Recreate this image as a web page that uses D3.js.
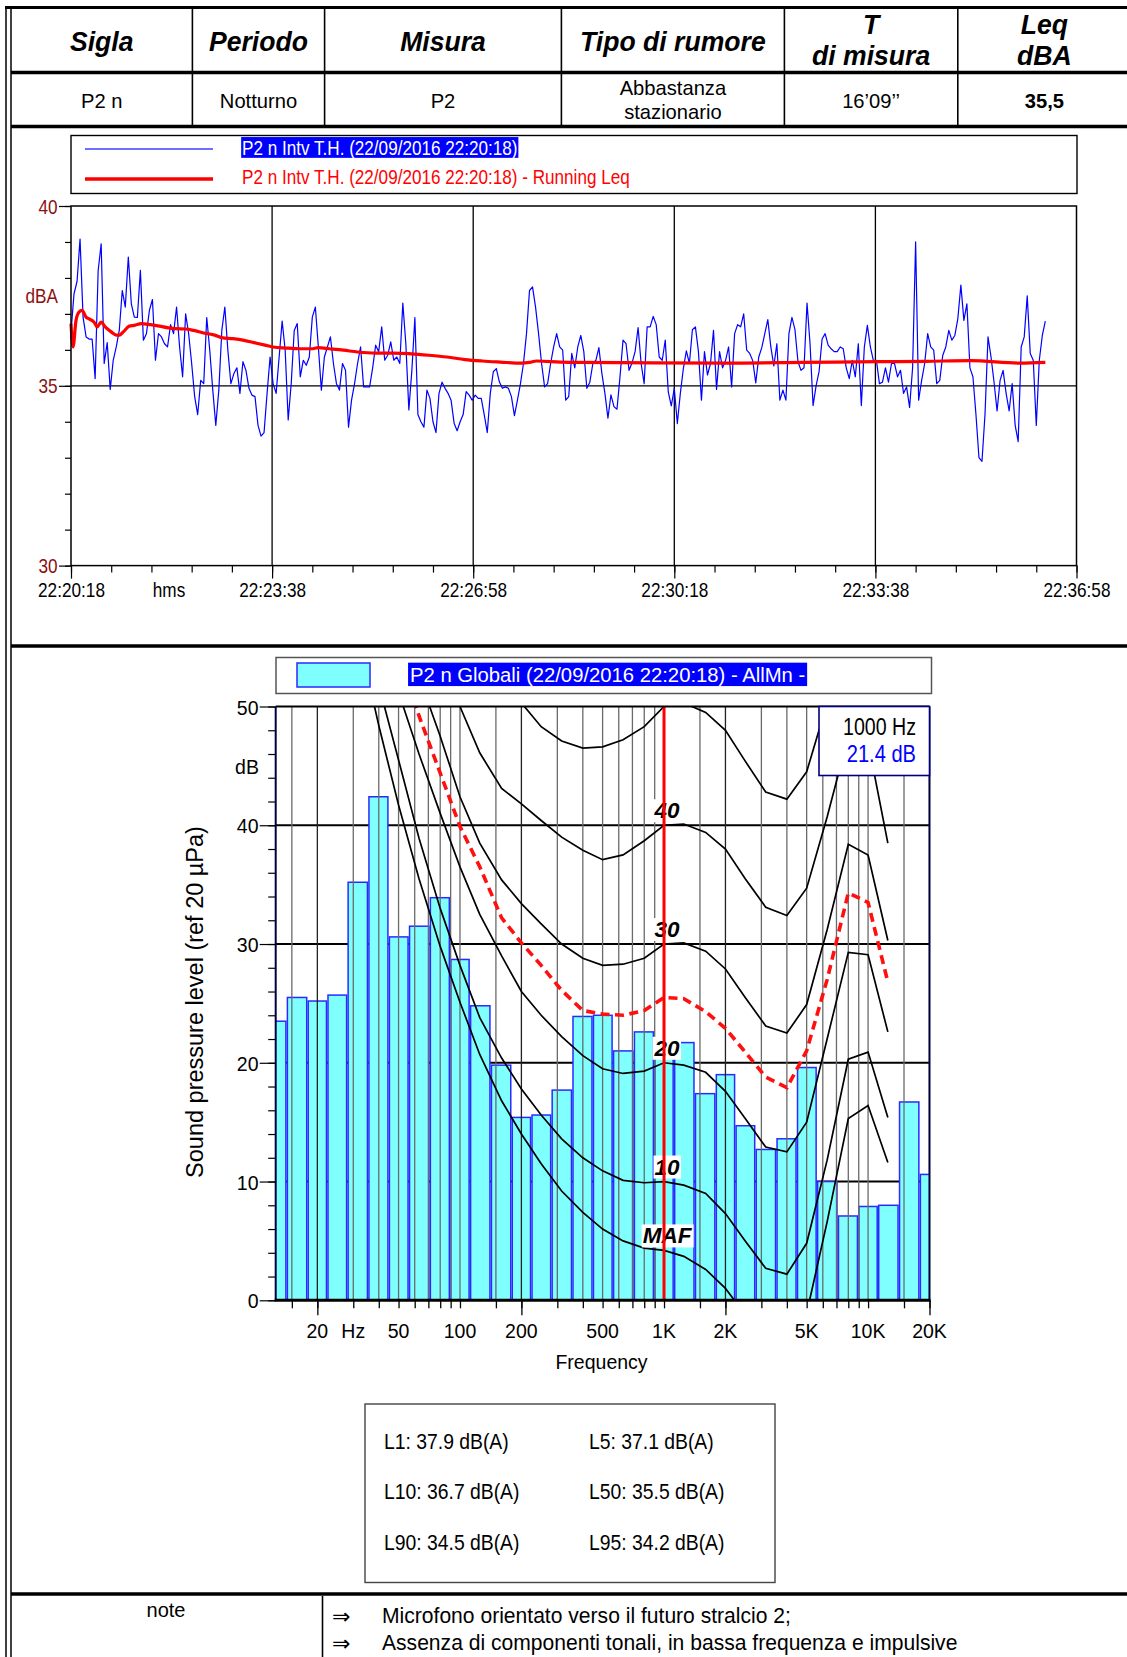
<!DOCTYPE html>
<html><head><meta charset="utf-8">
<script src="https://cdn.jsdelivr.net/npm/d3@7"></script>
<style>html,body{margin:0;padding:0;background:#fff;} svg{display:block;}</style>
</head><body>
<svg id="c" width="1127" height="1657"></svg>
<script>
// ---------------- DATA ----------------
const headerCols = ["Sigla", "Periodo", "Misura", "Tipo di rumore", "T\ndi misura", "Leq\ndBA"];
const rowValues = ["P2 n", "Notturno", "P2", "Abbastanza\nstazionario", "16\u201909\u2019\u2019", "35,5"];

const timeLegend = ["P2 n Intv T.H. (22/09/2016 22:20:18)", "P2 n Intv T.H. (22/09/2016 22:20:18) - Running Leq"];
const timeTickLabels = ["22:20:18", "22:23:38", "22:26:58", "22:30:18", "22:33:38", "22:36:58"];
const timeTickSeconds = [0, 200, 400, 600, 800, 1000];
const timeYTicks = [30, 35, 40];
const blueStep = 3; // seconds between samples
const blueValues = [
36.5,37.56,37.9,39.08,36.91,36.36,36.3,36.3,35.2,38.2,
38.95,35.62,36.2,34.9,35.71,36.08,36.54,37.65,37.19,38.58,
37.28,36.91,36.9,38.21,36.27,36.45,37.1,37.4,35.71,36.45,
36.36,36.17,36.08,36.7,36.45,37.19,36.08,35.25,37.0,36.45,
35.62,34.7,34.2,35.15,35.06,36.9,35.99,34.88,33.9,34.88,
36.54,37.19,35.99,35.06,35.34,35.5,34.79,35.67,35.43,34.93,
34.74,34.7,33.9,33.6,33.7,34.79,35.8,35.06,34.79,35.8,
36.8,35.99,34.05,35.06,36.54,36.73,35.25,35.71,35.57,35.8,
36.91,37.19,36.08,34.88,35.8,36.08,36.36,35.62,35.06,34.88,
35.62,35.43,33.85,34.6,35.06,35.62,36.08,34.97,34.97,34.97,
35.5,36.13,35.95,36.64,35.71,35.85,36.22,35.71,35.8,35.62,
37.3,36.17,34.33,35.43,36.9,34.2,34.0,33.85,34.88,34.65,
34.0,33.7,34.79,35.1,34.93,34.79,34.6,33.96,33.75,34.0,
34.2,34.84,34.74,34.6,34.74,34.65,34.65,34.19,33.7,34.79,
35.39,35.48,35.11,34.93,34.97,34.93,34.7,34.17,34.6,35.06,
35.62,36.45,37.65,37.75,37.19,36.45,35.62,34.97,35.06,35.62,
36.08,36.45,36.08,
35.99,34.6,34.7,35.9,35.5,36.08,36.4,35.95,34.93,35.1,
35.62,35.71,36.06,35.34,34.79,34.1,34.75,34.42,34.35,35.25,
36.27,36.17,35.43,35.64,35.95,36.62,35.62,35.06,36.64,36.64,
36.93,36.7,35.8,35.71,36.27,34.83,34.44,34.93,33.95,34.79,
35.48,35.97,35.62,36.56,36.64,35.95,34.6,35.95,35.3,35.62,
36.54,34.9,35.95,35.5,35.71,36.08,34.97,36.45,36.7,36.64,
37.0,35.99,35.9,35.7,35.08,35.8,36.06,36.45,36.84,36.08,
35.55,36.17,34.6,34.88,34.6,36.45,36.9,36.56,35.67,35.43,
35.5,37.3,36.17,34.45,35.0,35.4,36.3,36.45,36.13,36.03,
35.95,35.95,36.08,36.03,35.5,35.2,35.71,35.25,36.17,34.45,
36.08,36.68,36.08,35.7,35.71,35.06,35.1,35.5,35.1,35.62,
35.62,35.25,35.43,34.79,34.97,34.4,35.5,39.0,34.6,35.15,
35.62,36.45,36.08,35.99,35.06,35.15,35.85,36.08,36.54,36.27,
36.4,36.87,37.8,36.82,37.28,35.5,35.25,34.2,33.0,32.9,
34.2,36.36,35.8,35.1,34.3,35.15,35.43,34.79,34.3,35.06,
33.9,33.45,36.08,36.36,37.5,35.9,35.71,33.9,35.71,36.4,
36.8];
const leqTimes = [0,2,5,8,11,15,18,23,26,30,34,40,45,48,52,58,63,70,79,88,97,104,114,122,132,143,150,161,171,182,193,201,214,228,239,246,257,271,285,303,321,338,356,374,392,409,427,448,456,463,487,504,579,653,728,802,850,895,944,969];
const leqValues = [36.73,36.08,36.82,37.05,37.10,36.91,36.86,36.77,36.64,36.77,36.64,36.50,36.41,36.41,36.50,36.66,36.68,36.73,36.70,36.66,36.61,36.59,36.58,36.54,36.47,36.41,36.34,36.31,36.27,36.20,36.13,36.08,36.05,36.03,36.03,36.06,36.03,35.99,35.94,35.91,35.91,35.89,35.85,35.80,35.73,35.69,35.66,35.63,35.65,35.69,35.66,35.65,35.64,35.63,35.65,35.67,35.68,35.70,35.63,35.65];

const specLegend = "P2 n Globali (22/09/2016 22:20:18) - AllMn -";
const bandCenters = [12.5,16,20,25,31.5,40,50,63,80,100,125,160,200,250,315,400,500,630,800,1000,1250,1600,2000,2500,3150,4000,5000,6300,8000,10000,12500,16000,20000];
const bandLevels = [23.5,25.5,25.2,25.7,35.2,42.4,30.6,31.5,33.9,28.7,24.8,19.8,15.4,15.6,17.7,23.9,24.0,21.0,22.6,21.4,21.7,17.4,19.0,14.7,12.7,13.6,19.6,10.0,7.1,7.9,8.0,16.7,10.6];
const freqLabels = [[20,"20"],[30,"Hz"],[50,"50"],[100,"100"],[200,"200"],[500,"500"],[1000,"1K"],[2000,"2K"],[5000,"5K"],[10000,"10K"],[20000,"20K"]];
const gridFreqs = [15,20,30,40,50,60,70,80,90,100,150,200,300,400,500,600,700,800,900,1000,1500,2000,3000,4000,5000,6000,7000,8000,9000,10000,15000,20000];
const specYTicks = [0,10,20,30,40,50];

const contourFreqs = [20,25,31.5,40,50,63,80,100,125,160,200,250,315,400,500,630,800,1000,1250,1600,2000,2500,3150,4000,5000,6300,8000,10000,12500];
const mafLevels = [74.3,65.0,56.3,48.4,41.7,35.5,29.8,25.1,20.7,16.8,14.0,11.5,9.2,7.4,6.0,5.0,4.4,4.2,3.7,2.6,1.0,-1.2,-3.6,-3.9,-1.1,6.6,15.3,16.4,11.6];
const phon10 = [75.5,66.5,58.0,51.8,45.5,38.9,33.0,28.2,23.8,20.4,17.8,15.6,13.6,12.0,10.9,10.1,9.9,10.0,9.7,9.0,7.3,5.0,2.7,2.2,4.8,11.8,20.3,20.9,15.4];
const phon20 = [78.0,70.0,62.5,56.5,51.2,46.0,41.0,36.5,32.5,29.0,26.0,24.0,22.2,20.6,19.5,19.1,19.3,20.0,19.8,19.2,17.6,15.3,12.9,12.5,15.0,22.0,29.3,29.1,22.6];
const phon30 = [83.0,76.0,69.5,63.5,58.0,52.5,47.5,42.4,38.5,35.4,33.4,31.7,30.0,28.8,28.2,28.3,28.8,30.0,30.1,29.4,27.9,25.5,23.1,22.5,24.9,31.2,38.4,37.5,30.3];
const phon40 = [87.0,81.0,75.0,69.5,64.5,59.5,54.5,50.0,46.1,43.1,41.8,40.4,39.0,37.9,37.1,37.5,38.7,40.0,40.1,39.4,38.0,35.5,33.1,32.4,34.7,40.7,47.5,47.0,38.5];
const phon50 = [90.0,85.0,80.0,75.0,70.5,66.0,62.0,57.0,54.5,52.0,50.3,48.3,47.1,46.5,46.6,47.2,48.3,50.0,50.3,49.5,48.0,45.4,42.8,42.2,44.5,50.3,57.5,57.0,47.5];
const measuredContour = [80.0,73.0,66.0,60.0,54.5,49.2,44.4,39.9,36.5,32.2,30.1,28.2,26.1,24.4,24.1,24.0,24.4,25.5,25.4,24.3,22.9,20.9,18.8,17.9,21.0,27.0,34.3,33.5,26.8];
const contourLabels = ["MAF","10","20","30","40"];
const cursorFreq = 1000, cursorLevel = 21.4;

const statLabels = ["L1","L5","L10","L50","L90","L95"];
const statValues = [37.9,37.1,36.7,35.5,34.5,34.2];
const noteTitle = "note";
const notes = ["Microfono orientato verso il futuro stralcio 2;", "Assenza di componenti tonali, in bassa frequenza e impulsive"];

// ---------------- DRAWING ----------------
const FONT = "'Liberation Sans', Arial, Helvetica, sans-serif";
const svg = d3.select("#c");
svg.append("rect").attr("width",1127).attr("height",1657).attr("fill","#fff");

function txt(parent, x, y, s, o) {
  o = o || {};
  const g = parent.append("g").attr("transform", `translate(${x},${y}) scale(${o.sx||1},1)${o.rot?` rotate(${o.rot})`:""}`);
  const t = g.append("text").attr("x",0).attr("y",0)
    .attr("text-anchor", o.anchor||"start")
    .style("font-family", o.family||FONT).style("font-size",(o.size||16)+"px")
    .style("font-weight", o.weight||"normal").style("font-style", o.style||"normal")
    .attr("fill", o.fill||"#000").text(s);
  if (o.bg) {
    const b = t.node().getBBox();
    g.insert("rect","text").attr("x",b.x-(o.padx||0)).attr("y",b.y+(o.pady||0)).attr("width",b.width+2*(o.padx||0)).attr("height",b.height-2*(o.pady||0)).attr("fill",o.bg);
  }
  return g;
}
function line(p, x1,y1,x2,y2, c, w){ return p.append("line").attr("x1",x1).attr("y1",y1).attr("x2",x2).attr("y2",y2).attr("stroke",c).attr("stroke-width",w); }

// ---- page frame / table ----
const frame = svg.append("g");
line(frame, 6, 6, 6, 1657, "#000", 1.5);
line(frame, 11, 9, 11, 1657, "#000", 1.5);
line(frame, 5, 7.5, 1127, 7.5, "#000", 3);
line(frame, 11, 72.5, 1127, 72.5, "#000", 3.5);
line(frame, 11, 126.5, 1127, 126.5, "#000", 3.5);
line(frame, 11, 646, 1127, 646, "#000", 3.5);
line(frame, 11, 1594, 1127, 1594, "#000", 3.5);
const colSep = [192.4, 324.6, 561.4, 784.4, 957.8];
colSep.forEach(x => { line(frame, x, 9, x, 71, "#000", 1.6); line(frame, x, 74, x, 125, "#000", 1.6); });
line(frame, 322.5, 1596, 322.5, 1657, "#000", 1.6);
const colEdges = [11].concat(colSep).concat([1127]);
const hdr = {anchor:"middle", size:28, weight:"bold", style:"italic", sx:0.95};
headerCols.forEach((h, i) => {
  const cx = (colEdges[i] + colEdges[i+1]) / 2 + (i===5 ? 2 : 0);
  const parts = h.split("\n");
  if (parts.length === 1) txt(frame, cx, 50.5, parts[0], hdr);
  else { txt(frame, cx, 33.5, parts[0], hdr); txt(frame, cx, 65, parts[1], hdr); }
});
rowValues.forEach((v, i) => {
  const cx = (colEdges[i] + colEdges[i+1]) / 2 + (i===5 ? 2 : 0);
  const parts = v.split("\n");
  const o = {anchor:"middle", size:21, weight: i===5 ? "bold":"normal", sx:0.96};
  if (parts.length === 1) txt(frame, cx, 107.5, parts[0], o);
  else { txt(frame, cx, 94.5, parts[0], o); txt(frame, cx, 119, parts[1], o); }
});

// ---- time history chart ----
const tc = svg.append("g");
const xT = d3.scaleLinear().domain([0, 1000]).range([71, 1076.5]);
const yT = d3.scaleLinear().domain([30, 40]).range([565.6, 206]);
// legend
tc.append("rect").attr("x",71).attr("y",135.5).attr("width",1006).attr("height",58).attr("fill","#fff").attr("stroke","#000").attr("stroke-width",1.4);
line(tc, 85, 149, 213, 149, "#6f6fff", 2);
line(tc, 85, 179, 213, 179, "#ff0000", 3.5);
txt(tc, 242, 154.5, timeLegend[0], {size:20.5, sx:0.835, fill:"#fff", bg:"#0000ff", padx:1, pady:1});
txt(tc, 242, 183.5, timeLegend[1], {size:20.5, sx:0.835, fill:"#ff0000"});
// grid
timeTickSeconds.slice(1,-1).forEach(t => line(tc, xT(t), yT(40), xT(t), yT(30), "#000", 1.3));
line(tc, xT(0), yT(35), xT(1000), yT(35), "#000", 1.3);
// series
const blueLine = d3.line().x((d,i)=>xT(i*blueStep)).y(d=>yT(d));
tc.append("path").datum(blueValues).attr("d", blueLine).attr("fill","none").attr("stroke","#0000ff").attr("stroke-width",1.2).attr("stroke-linejoin","round");
const leqLine = d3.line().x((d,i)=>xT(leqTimes[i])).y(d=>yT(d)).curve(d3.curveMonotoneX);
tc.append("path").datum(leqValues).attr("d", leqLine).attr("fill","none").attr("stroke","#ff0000").attr("stroke-width",3.2).attr("stroke-linejoin","round");
// frame
tc.append("rect").attr("x",xT(0)).attr("y",yT(40)).attr("width",xT(1000)-xT(0)).attr("height",yT(30)-yT(40)).attr("fill","none").attr("stroke","#000").attr("stroke-width",1.5);
// axes
const xMinor = d3.range(0, 1001, 40);
const axM = d3.axisBottom(xT).tickValues(xMinor).tickSize(7).tickFormat("");
const gx = tc.append("g").attr("transform",`translate(0,${yT(30)})`).call(axM);
gx.select(".domain").remove(); gx.selectAll("line").attr("stroke","#000").attr("stroke-width",1.2);
const axMaj = d3.axisBottom(xT).tickValues(timeTickSeconds).tickSize(13).tickFormat((d,i)=>timeTickLabels[i]);
const gx2 = tc.append("g").attr("transform",`translate(0,${yT(30)})`).call(axMaj);
gx2.select(".domain").remove(); gx2.selectAll("line").attr("stroke","#000").attr("stroke-width",1.2);
gx2.selectAll("text").attr("y",0).attr("dy",null).attr("transform","translate(0,31.5) scale(0.86,1)")
  .style("font-family",FONT).style("font-size","20px").attr("fill","#000");
txt(tc, xT(97.5), 597, "hms", {anchor:"middle", size:20, sx:0.86});
const yMinor = d3.range(30, 40.01, 1);
const ayM = d3.axisLeft(yT).tickValues(yMinor).tickSize(6).tickFormat("");
const gy = tc.append("g").attr("transform",`translate(${xT(0)},0)`).call(ayM);
gy.select(".domain").remove(); gy.selectAll("line").attr("stroke","#000").attr("stroke-width",1.2);
const ayMaj = d3.axisLeft(yT).tickValues(timeYTicks).tickSize(12).tickFormat("");
const gy2 = tc.append("g").attr("transform",`translate(${xT(0)},0)`).call(ayMaj);
gy2.select(".domain").remove(); gy2.selectAll("line").attr("stroke","#000").attr("stroke-width",1.2);
timeYTicks.forEach(v => txt(tc, 57.5, yT(v)+7.5, String(v), {anchor:"end", size:20, sx:0.86, fill:"#8b1010"}));
txt(tc, 58, 303, "dBA", {anchor:"end", size:20, sx:0.86, fill:"#8b1010"});

// ---- spectrum chart ----
const sc = svg.append("g");
const xS = d3.scaleLog().domain([12.5, 20000]).range([275.7, 929.5]);
const yS = d3.scaleLinear().domain([0, 50]).range([1300.3, 706.5]);
// legend
sc.append("rect").attr("x",276).attr("y",657.5).attr("width",655.5).attr("height",36).attr("fill","#fff").attr("stroke","#555").attr("stroke-width",1.5);
sc.append("rect").attr("x",297).attr("y",663).attr("width",73).attr("height",24).attr("fill","#80ffff").attr("stroke","#2a2aff").attr("stroke-width",1.5);
txt(sc, 410, 682, specLegend, {size:21, sx:0.965, fill:"#fff", bg:"#0000ff", padx:2, pady:0});
sc.append("clipPath").attr("id","specClip").append("rect").attr("x",xS.range()[0]).attr("y",yS(50)).attr("width",xS.range()[1]-xS.range()[0]).attr("height",yS(0)-yS(50));
const plot = sc.append("g").attr("clip-path","url(#specClip)");
// horizontal grid (behind bars)
[10,20,30,40].forEach(v => line(plot, xS.range()[0], yS(v), xS.range()[1], yS(v), "#000", 2));
// bars
const edges = bandCenters.map((f,i) => {
  const lo = i===0 ? f/Math.pow(2,1/6) : Math.sqrt(f*bandCenters[i-1]);
  const hi = i===bandCenters.length-1 ? f*Math.pow(2,1/6) : Math.sqrt(f*bandCenters[i+1]);
  return [lo, hi];
});
plot.selectAll("rect.bar").data(bandLevels).enter().append("rect").attr("class","bar")
  .attr("x",(d,i)=>xS(edges[i][0])+0.75).attr("width",(d,i)=>xS(edges[i][1])-xS(edges[i][0])-1.5)
  .attr("y",d=>yS(d)).attr("height",d=>yS(0)-yS(d))
  .attr("fill","#80ffff").attr("stroke","#2a2aff").attr("stroke-width",1.5);
// vertical grid (over bars)
gridFreqs.forEach(f => {
  const major = (f===20||f===200||f===2000);
  line(plot, xS(f), yS(50), xS(f), yS(0), major ? "#222" : "#6a6a6a", 1.3);
});
// contours
const cLine = d3.line().x((d,i)=>xS(contourFreqs[i])).y(d=>yS(d));
[mafLevels, phon10, phon20, phon30, phon40, phon50].forEach(arr => {
  plot.append("path").datum(arr).attr("d", cLine).attr("fill","none").attr("stroke","#000").attr("stroke-width",1.7);
});
plot.append("path").datum(measuredContour).attr("d", cLine).attr("fill","none").attr("stroke","#ff1010").attr("stroke-width",3.6).attr("stroke-dasharray","9,5.5");
// contour labels
const lblVals = [mafLevels, phon10, phon20, phon30, phon40].map(a => a[contourFreqs.indexOf(1000)]);
contourLabels.forEach((l,i) => {
  txt(sc, xS(1000)+3, yS(lblVals[i]) - 7, l, {anchor:"middle", size:22.5, weight:"bold", style:"italic", bg:"#fff", padx:1, pady:1});
});
// cursor line
line(sc, xS(cursorFreq), yS(50), xS(cursorFreq), yS(0), "#ff0000", 3);
// frame
line(sc, xS.range()[0], yS(50), xS.range()[1], yS(50), "#000", 2);
line(sc, xS.range()[0], yS(50), xS.range()[0], yS(0), "#000040", 2);
line(sc, xS.range()[1], yS(50), xS.range()[1], yS(0), "#000040", 2);
line(sc, xS.range()[0]-1, yS(0), xS.range()[1]+1, yS(0), "#000", 3);
// axes
const axS = d3.axisBottom(xS).tickValues(gridFreqs).tickSize(8).tickFormat("");
const gsx = sc.append("g").attr("transform",`translate(0,${yS(0)})`).call(axS);
gsx.select(".domain").remove(); gsx.selectAll("line").attr("stroke","#000").attr("stroke-width",1.3);
const axS2 = d3.axisBottom(xS).tickValues([20,200,2000,20000]).tickSize(15).tickFormat("");
const gsx2 = sc.append("g").attr("transform",`translate(0,${yS(0)})`).call(axS2);
gsx2.select(".domain").remove(); gsx2.selectAll("line").attr("stroke","#000").attr("stroke-width",1.3);
freqLabels.forEach(([f,l]) => txt(sc, xS(f), 1338, l, {anchor:"middle", size:21, sx:0.93}));
txt(sc, 601.5, 1369, "Frequency", {anchor:"middle", size:21, sx:0.93});
const aySm = d3.axisLeft(yS).tickValues(d3.range(0,50.1,2)).tickSize(7.5).tickFormat("");
const gsy = sc.append("g").attr("transform",`translate(${xS.range()[0]},0)`).call(aySm);
gsy.select(".domain").remove(); gsy.selectAll("line").attr("stroke","#000").attr("stroke-width",1.2);
const aySM = d3.axisLeft(yS).tickValues(specYTicks).tickSize(16).tickFormat("");
const gsy2 = sc.append("g").attr("transform",`translate(${xS.range()[0]},0)`).call(aySM);
gsy2.select(".domain").remove(); gsy2.selectAll("line").attr("stroke","#000").attr("stroke-width",1.2);
specYTicks.forEach(v => txt(sc, 258.5, yS(v)+8, String(v), {anchor:"end", size:21, sx:0.93}));
txt(sc, 259, yS(45)+8.5, "dB", {anchor:"end", size:21, sx:0.93});
txt(sc, 203, 1002, "Sound pressure level (ref 20 \u00b5Pa)", {anchor:"middle", size:23.5, rot:-90});
// cursor readout box
sc.append("rect").attr("x",819).attr("y",yS(50)).attr("width",xS.range()[1]-819).attr("height",69).attr("fill","#fff").attr("stroke","#000080").attr("stroke-width",1.6);
txt(sc, 916, 735, cursorFreq + " Hz", {anchor:"end", size:24.5, sx:0.8});
txt(sc, 916, 762, cursorLevel.toFixed(1) + " dB", {anchor:"end", size:24.5, sx:0.82, fill:"#0000ff"});

// ---- statistics box ----
const st = svg.append("g");
st.append("rect").attr("x",365).attr("y",1404).attr("width",410).attr("height",178.5).attr("fill","#fff").attr("stroke","#444").attr("stroke-width",1.4);
statLabels.forEach((l,i) => {
  const col = i % 2, row = Math.floor(i/2);
  txt(st, col===0 ? 384 : 589, 1448.5 + row*50.7, `${l}: ${statValues[i].toFixed(1)} dB(A)`, {size:21.5, sx:0.9});
});

// ---- notes ----
const nt = svg.append("g");
txt(nt, 166, 1617, noteTitle, {anchor:"middle", size:20});
notes.forEach((n,i) => {
  txt(nt, 332, 1624 + i*26.5, "\u21d2", {size:22, family:"'DejaVu Sans', sans-serif"});
  txt(nt, 382, 1623 + i*26.5, n, {size:21.3, sx:0.99});
});
</script></body></html>
